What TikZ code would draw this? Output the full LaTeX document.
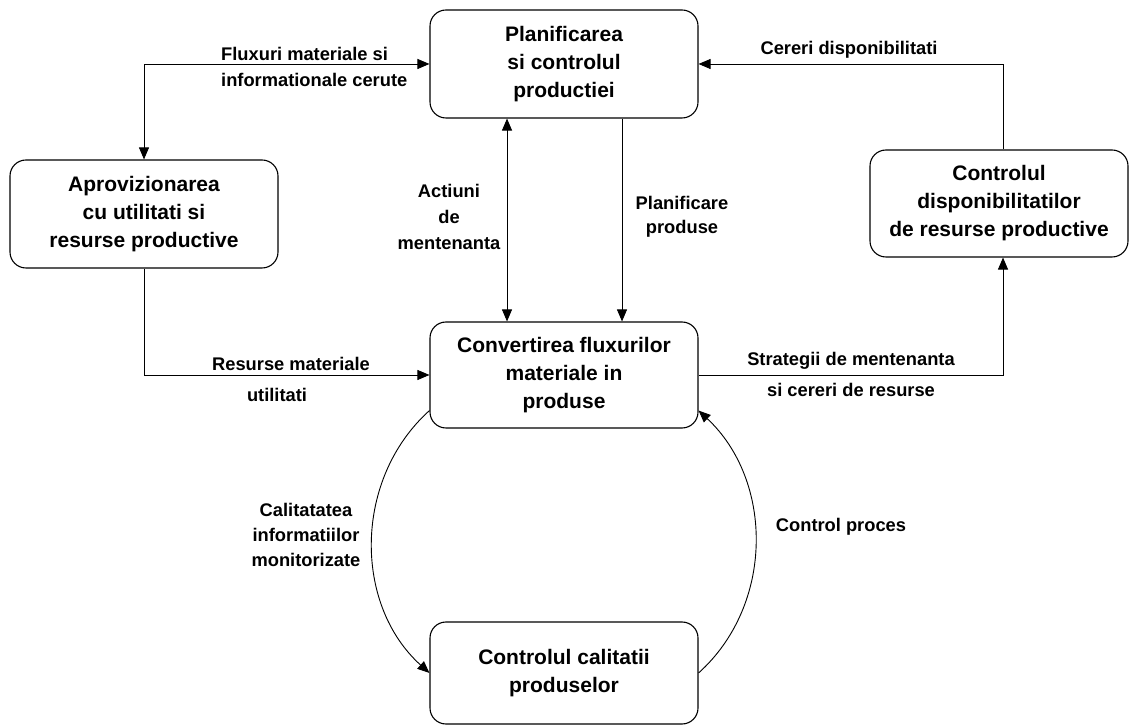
\documentclass[tikz,border=0pt]{standalone}
\usepackage{fontspec}
\setmainfont{Liberation Sans}
\usetikzlibrary{arrows.meta}

\begin{document}
\begin{tikzpicture}[x=1pt,y=1pt,
  box/.style={draw, line width=1.1pt, rounded corners=16pt, inner sep=0pt,
    align=center, font=\fontsize{21}{28}\selectfont\bfseries},
  lbl/.style={inner sep=0pt, align=center, anchor=base,
    font=\fontsize{18.3}{26}\selectfont\bfseries},
  link/.style={line width=0.9pt, -{Triangle[length=12pt,width=10pt]}},
  both/.style={line width=0.9pt, {Triangle[length=12pt,width=10pt]}-{Triangle[length=12pt,width=10pt]}}
]
\useasboundingbox (0,0) rectangle (1130,726);

% process boxes
\node[box, minimum width=268pt, minimum height=108pt] (plan) at (564,662)
  {Planificarea\\si controlul\\productiei};
\node[box, minimum width=268pt, minimum height=108pt] (aprov) at (144,512)
  {Aprovizionarea\\cu utilitati si\\resurse productive};
\node[box, minimum width=258pt, minimum height=107pt] (disp) at (999,522.5)
  {Controlul\\disponibilitatilor\\de resurse productive};
\node[box, minimum width=268pt, minimum height=106pt] (conv) at (564,351)
  {Convertirea fluxurilor\\materiale in\\produse};
\node[box, minimum width=268pt, minimum height=102pt] (qc) at (564,53)
  {Controlul calitatii\\produselor};

% connectors
\draw[both] (plan.west) -| (aprov.north);
\draw[link] ([xshift=4pt]disp.north) |- (plan.east);
\draw[both] ([xshift=-57pt]plan.south) -- ([xshift=-57pt]conv.north);
\draw[link] ([xshift=58pt]plan.south) -- ([xshift=58pt]conv.north);
\draw[link] (aprov.south) |- (conv.west);
\draw[link] (conv.east) -| ([xshift=4pt]disp.south);
\draw[link] ([yshift=18pt]conv.south west) to[out=222,in=138,looseness=1.0] (qc.west);
\draw[link] (qc.east) to[out=42,in=317,looseness=1.0] ([yshift=18pt]conv.south east);

% connector labels (base = baseline of the last line)
\node[lbl, anchor=base west, align=left] (l1) at (221,639)
  {Fluxuri materiale si\\informationale cerute};
\node[lbl] (l2) at (849,671) {Cereri disponibilitati};
\node[lbl] (l3) at (449,476) {Actiuni\\de\\mentenanta};
\node[lbl, font=\fontsize{18.3}{24}\selectfont\bfseries] (l4) at (682,492)
  {Planificare\\produse};
\node[lbl] (l5) at (291,355) {Resurse materiale};
\node[lbl] (l6) at (277,324) {utilitati};
\node[lbl, font=\fontsize{18.3}{31}\selectfont\bfseries] (l7) at (851,329)
  {Strategii de mentenanta\\si cereri de resurse};
\node[lbl, font=\fontsize{18.3}{25}\selectfont\bfseries] (l8) at (306,159)
  {Calitatatea\\informatiilor\\monitorizate};
\node[lbl] (l9) at (841,194) {Control proces};
\end{tikzpicture}
\end{document}
